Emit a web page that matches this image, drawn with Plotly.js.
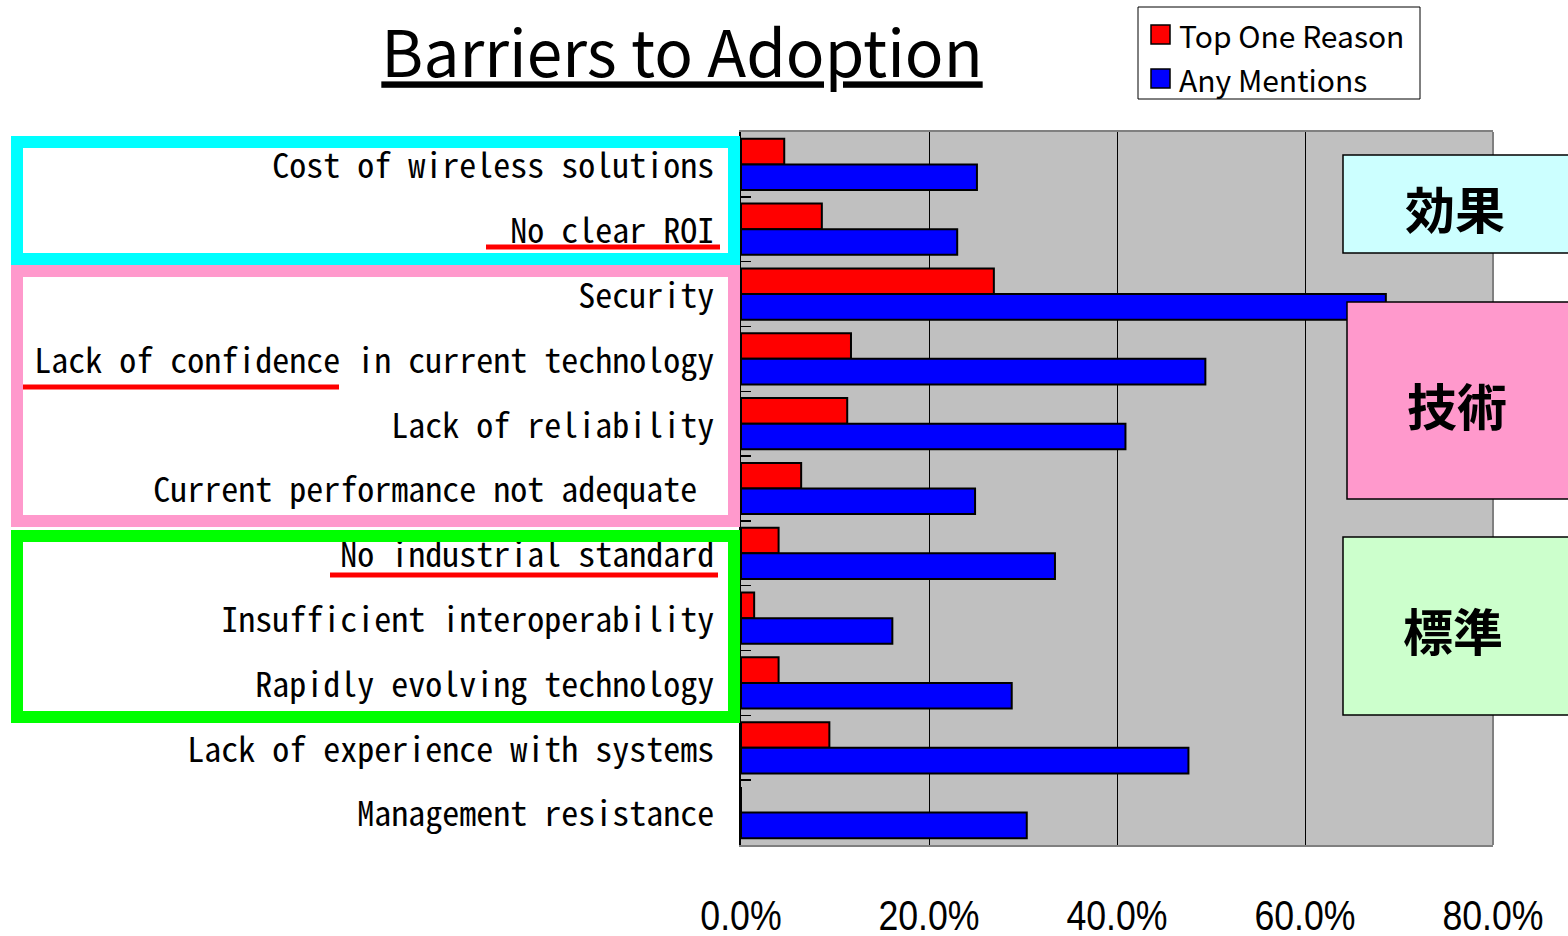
<!DOCTYPE html>
<html>
<head>
<meta charset="utf-8">
<script src="https://cdn.plot.ly/plotly-3.0.1.min.js"></script>
<style>html,body{margin:0;padding:0;background:#fff;}</style>
</head>
<body>
<div id="chart" style="width:1568px;height:936px;"></div>
<script>
const categories = [
  "Cost of wireless solutions",
  "No clear ROI",
  "Security",
  "Lack of confidence in current technology",
  "Lack of reliability",
  "Current performance not adequate\u00a0",
  "No industrial standard",
  "Insufficient interoperability",
  "Rapidly evolving technology",
  "Lack of experience with systems",
  "Management resistance"
];
const topOneReason = [4.6, 8.6, 26.9, 11.7, 11.3, 6.4, 4.0, 1.4, 4.0, 9.4, 0];
const anyMentions = [25.1, 23.0, 68.6, 49.4, 40.9, 24.9, 33.4, 16.1, 28.8, 47.6, 30.4];
const seriesNames = ["Top One Reason", "Any Mentions"];
const groupLabels = ["効果", "技術", "標準"];
const xTicks = [0, 20, 40, 60, 80];

const L = 741, R = 1493, T = 132, B = 845;
const px = v => (v - L) / (R - L);
const py = v => (B - v) / (B - T);

const labelFont = "'Noto Sans CJK JP', 'DejaVu Sans', sans-serif";
const monoFont = "'Noto Sans Mono CJK JP', 'DejaVu Sans Mono', monospace";
const narrowFont = "'Liberation Sans', Arial, sans-serif";

const traces = [
  {type: 'bar', orientation: 'h', name: seriesNames[0], y: categories, x: topOneReason,
   marker: {color: '#ff0000', line: {color: '#000', width: 2}}, showlegend: false},
  {type: 'bar', orientation: 'h', name: seriesNames[1], y: categories, x: anyMentions,
   marker: {color: '#0000ff', line: {color: '#000', width: 2}}, showlegend: false}
];

function rect(x0, y0, x1, y1, line, fill, w) {
  return {type: 'rect', xref: 'paper', yref: 'paper', x0: px(x0), x1: px(x1), y0: py(y1), y1: py(y0),
    line: {color: line, width: w}, fillcolor: fill, layer: 'above'};
}
function hline(x0, x1, y, color, w) {
  return {type: 'line', xref: 'paper', yref: 'paper', x0: px(x0), x1: px(x1), y0: py(y), y1: py(y),
    line: {color: color, width: w}, layer: 'above'};
}
function label(x, y, text, size, family, anchor, bold) {
  return {xref: 'paper', yref: 'paper', x: px(x), y: py(y), xanchor: anchor, yanchor: 'middle',
    text: text, showarrow: false,
    font: {family: family, size: size, color: '#000', weight: bold ? 'bold' : 'normal'}};
}

const shapes = [
  {type: 'line', xref: 'paper', yref: 'paper', x0: 1, x1: 1, y0: 0, y1: 1, line: {color: '#808080', width: 2}},
  rect(17, 142, 734, 259, '#00ffff', 'rgba(0,0,0,0)', 12),
  rect(17, 271, 734, 521, '#ff99cc', 'rgba(0,0,0,0)', 12),
  rect(17, 536, 734, 717, '#00ff00', 'rgba(0,0,0,0)', 12),
  hline(486, 720, 247, '#ff0000', 5),
  hline(23, 339, 387, '#ff0000', 5),
  hline(330, 718, 575, '#ff0000', 5),
  rect(1343, 155, 1572, 253, '#000', '#ccffff', 1.5),
  rect(1347, 302, 1572, 499, '#000', '#ff99cc', 1.5),
  rect(1343, 537, 1572, 715, '#000', '#ccffcc', 1.5),
  rect(1138, 7, 1420, 99, '#000', '#ffffff', 1),
  rect(1151, 25, 1170, 44, '#000', '#ff0000', 1.5),
  rect(1151, 69, 1170, 88, '#000', '#0000ff', 1.5)
];

const annotations = [
  label(1455, 207, groupLabels[0], 50, labelFont, 'center', true),
  label(1457, 404, groupLabels[1], 50, labelFont, 'center', true),
  label(1453, 629, groupLabels[2], 50, labelFont, 'center', true),
  label(1177, 35, seriesNames[0], 30, labelFont, 'left', false),
  label(1177, 79, seriesNames[1], 30, labelFont, 'left', false)
];

const layout = {
  width: 1568, height: 936,
  margin: {l: L, r: 1568 - R, t: T, b: 936 - B, pad: 0},
  paper_bgcolor: '#ffffff',
  plot_bgcolor: '#c0c0c0',
  barmode: 'group',
  bargap: 0.21,
  bargroupgap: 0,
  showlegend: false,
  title: {text: '<u>Barriers to Adoption</u>', x: 682 / 1568, xanchor: 'center', y: 1 - 55 / 936, yanchor: 'middle',
    font: {family: labelFont, size: 64, color: '#000'}},
  xaxis: {
    range: [0, 80], tickvals: xTicks, ticktext: xTicks.map(v => v.toFixed(1) + '%'),
    showgrid: true, gridcolor: '#000', gridwidth: 1, zeroline: false,
    showline: true, linecolor: '#808080', linewidth: 2, mirror: true,
    ticks: '', ticklabelstandoff: 31,
    tickfont: {family: narrowFont, size: 43, color: '#000'},
    fixedrange: true
  },
  yaxis: {
    type: 'category', autorange: 'reversed',
    showline: true, linecolor: '#000', linewidth: 2,
    ticks: 'inside', ticklen: 10, tickcolor: '#000', tickwidth: 1.5, tickson: 'boundaries',
    ticklabelstandoff: 18, ticklabelshift: -2,
    showgrid: false, zeroline: false,
    tickfont: {family: monoFont, size: 34, color: '#000'},
    fixedrange: true
  },
  shapes: shapes,
  annotations: annotations
};

Plotly.newPlot('chart', traces, layout, {displayModeBar: false, staticPlot: true}).then(() => {
  // condense the x tick labels horizontally (narrow typeface look)
  document.querySelectorAll('#chart .xtick text').forEach(t => {
    const w = t.getComputedTextLength();
    t.setAttribute('lengthAdjust', 'spacingAndGlyphs');
    t.setAttribute('textLength', (w * 0.83).toFixed(1));
  });
});
</script>
</body>
</html>
